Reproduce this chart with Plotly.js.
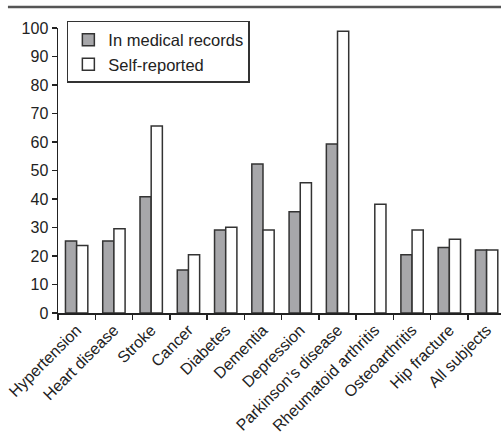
<!DOCTYPE html>
<html>
<head>
<meta charset="utf-8">
<script src="https://cdn.plot.ly/plotly-3.0.1.min.js"></script>
<style>html,body{margin:0;padding:0;background:#fff;}#chart{width:501px;height:435px;}</style>
</head>
<body>
<div id="chart"></div>
<script>
var categories = ["Hypertension", "Heart disease", "Stroke", "Cancer", "Diabetes", "Dementia",
  "Depression", "Parkinson\u2019s disease", "Rheumatoid arthritis", "Osteoarthritis", "Hip fracture", "All subjects"];
var medicalRecords = [25.3, 25.3, 40.8, 15.1, 29.1, 52.3, 35.5, 59.3, null, 20.4, 23.0, 22.1];
var selfReported = [23.7, 29.6, 65.6, 20.4, 30.1, 29.1, 45.7, 98.9, 38.2, 29.1, 25.9, 22.1];
var yTicks = [0, 10, 20, 30, 40, 50, 60, 70, 80, 90, 100];

var FONT = "Liberation Sans, Arial, Helvetica, sans-serif";
var traces = [
  {type: "bar", name: "In medical records", x: categories, y: medicalRecords,
   marker: {color: "#a7a7aa", line: {color: "#333333", width: 1.5}}},
  {type: "bar", name: "Self-reported", x: categories, y: selfReported,
   marker: {color: "#ffffff", line: {color: "#333333", width: 1.5}}}
];
var layout = {
  width: 501, height: 435,
  margin: {l: 58, r: 0, t: 28, b: 122},
  paper_bgcolor: "#fff", plot_bgcolor: "#fff",
  font: {family: FONT, color: "#222", size: 16},
  barmode: "group", bargap: 0.4, bargroupgap: 0,
  showlegend: true,
  legend: {x: 0.02, y: 1.0246, xanchor: "left", yanchor: "top",
    bordercolor: "#333", borderwidth: 1.5, bgcolor: "#fff",
    font: {family: FONT, size: 16.5, color: "#222"}, tracegroupgap: 0,
    itemwidth: 30},
  xaxis: {type: "category", range: [-0.5, 11.386], tickangle: -45,
    showline: true, linecolor: "#222", linewidth: 1.5, ticks: "outside", ticklen: 5,
    tickcolor: "#222", tickwidth: 1.5, tickson: "boundaries", showgrid: false, zeroline: false,
    tickfont: {family: FONT, size: 16, color: "#222"}},
  yaxis: {range: [0, 100], tickvals: yTicks, showline: true, linecolor: "#222", linewidth: 1.5,
    ticks: "outside", ticklen: 5, tickcolor: "#222", tickwidth: 1.5, showgrid: false, zeroline: false,
    tickfont: {family: FONT, size: 16, color: "#222"}},
  shapes: [{type: "line", xref: "paper", yref: "paper", x0: -0.113, x1: 1.0, y0: 1.074, y1: 1.074,
    line: {color: "#555", width: 2.5}}]
};
Plotly.newPlot("chart", traces, layout, {displayModeBar: false, staticPlot: true});
</script>
</body>
</html>
